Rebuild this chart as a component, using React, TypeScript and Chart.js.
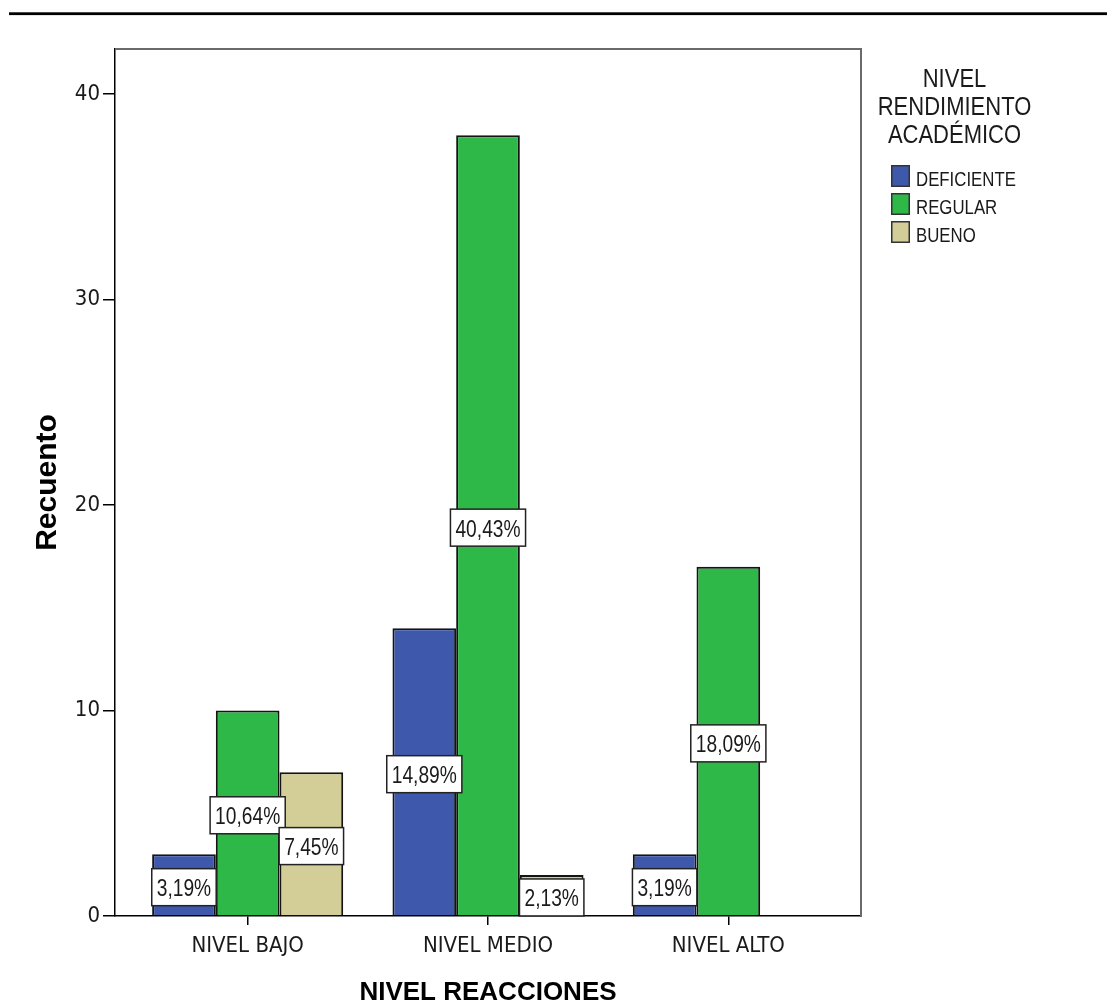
import React, { useEffect, useRef } from "react";
import { Chart, registerables } from "chart.js";

Chart.register(...registerables);

// Counts per reaction level, one array per academic-performance group
const categories = ["NIVEL BAJO", "NIVEL MEDIO", "NIVEL ALTO"];
const seriesNames = ["DEFICIENTE", "REGULAR", "BUENO"];
const deficiente = [3, 14, 3];
const regular = [10, 38, 17];
const bueno = [7, 2, 0];
const yTicks = [0, 10, 20, 30, 40];
const legendTitle = ["NIVEL", "RENDIMIENTO", "ACADÉMICO"];
const xTitle = "NIVEL REACCIONES";
const yTitle = "Recuento";

const colors = ["#3E58AC", "#2EB848", "#D3CE97"];
const NARROW = "'Liberation Sans Narrow', 'Arial Narrow', 'DejaVu Sans Condensed', sans-serif";
const SANS = "'Liberation Sans', Arial, sans-serif";
const TEXT = "#1a1a1a";

const W = 1099;
const H = 1000;

// Text squeezed horizontally, for the condensed look of labels and legend
function narrowText(
  ctx: CanvasRenderingContext2D,
  text: string,
  x: number,
  y: number,
  size: number,
  sx: number,
  align: CanvasTextAlign,
  baseline: CanvasTextBaseline
) {
  ctx.save();
  ctx.translate(x, y);
  ctx.scale(sx, 1);
  ctx.font = `${size}px ${SANS}`;
  ctx.textAlign = align;
  ctx.textBaseline = baseline;
  ctx.fillText(text, 0, 0);
  ctx.restore();
}

function narrowWidth(ctx: CanvasRenderingContext2D, text: string, size: number, sx: number) {
  ctx.save();
  ctx.font = `${size}px ${SANS}`;
  const w = ctx.measureText(text).width * sx;
  ctx.restore();
  return w;
}

// Heavy rule across the top of the page and the grey top/right sides of the frame
const framePlugin = {
  id: "frame",
  beforeDraw(chart: Chart) {
    const { ctx } = chart;
    ctx.save();
    ctx.fillStyle = "#000";
    ctx.fillRect(1, 4.3, W - 1, 2.8);
    ctx.restore();
  },
  afterDraw(chart: Chart) {
    const { ctx, chartArea: a } = chart;
    ctx.save();
    ctx.strokeStyle = "#6a6a6a";
    ctx.lineWidth = 2;
    ctx.beginPath();
    ctx.moveTo(a.left, a.top);
    ctx.lineTo(a.right, a.top);
    ctx.lineTo(a.right, a.bottom + 1);
    ctx.stroke();
    ctx.restore();
  },
};

// Boxed percentage labels in the middle of each bar
const pctLabelPlugin = {
  id: "pctLabels",
  afterDatasetsDraw(chart: Chart) {
    const { ctx, chartArea } = chart;
    const y = chart.scales.y;
    const all = chart.data.datasets.flatMap((d) => d.data as number[]);
    const total = all.reduce((s, v) => s + (v || 0), 0);
    const size = 24;
    const sx = 0.8;
    ctx.save();
    chart.data.datasets.forEach((ds, di) => {
      const meta = chart.getDatasetMeta(di);
      meta.data.forEach((bar: any, i: number) => {
        const v = (ds.data as number[])[i];
        if (!v) return;
        const text = ((v / total) * 100).toFixed(2).replace(".", ",") + "%";
        const w = narrowWidth(ctx, text, size, sx) + 10;
        const h = 37;
        let cy = y.getPixelForValue(v / 2) + 2;
        if (cy + h / 2 > chartArea.bottom) cy = chartArea.bottom - h / 2;
        const x = bar.x;
        ctx.fillStyle = "#fff";
        ctx.fillRect(x - w / 2, cy - h / 2, w, h);
        ctx.strokeStyle = "#222";
        ctx.lineWidth = 1.5;
        ctx.strokeRect(x - w / 2, cy - h / 2, w, h);
        ctx.fillStyle = TEXT;
        narrowText(ctx, text, x, cy + 9, size, sx, "center", "alphabetic");
      });
    });
    ctx.restore();
  },
};

// Legend with a three-line title on the right of the plot
const legendPlugin = {
  id: "sideLegend",
  afterDraw(chart: Chart) {
    const { ctx } = chart;
    ctx.save();
    ctx.fillStyle = TEXT;
    legendTitle.forEach((line, i) =>
      narrowText(ctx, line, 946.5, 79 + i * 28, 25, 0.88, "center", "alphabetic")
    );
    chart.data.datasets.forEach((ds, i) => {
      const top = 157 + i * 28;
      ctx.fillStyle = ds.backgroundColor as string;
      ctx.fillRect(883, top, 19, 22);
      ctx.strokeStyle = "#333";
      ctx.lineWidth = 1.5;
      ctx.strokeRect(883.75, top + 0.75, 17.5, 20.5);
      ctx.fillStyle = TEXT;
      narrowText(ctx, ds.label as string, 908, top + 21, 21, 0.8, "left", "alphabetic");
    });
    ctx.restore();
  },
};

export default function App() {
  const ref = useRef<HTMLCanvasElement>(null);

  useEffect(() => {
    const series = [deficiente, regular, bueno];
    const chart = new Chart(ref.current!, {
      type: "bar",
      data: {
        labels: categories.map((_, i) => i),
        datasets: series.map((data, i) => ({
          label: seriesNames[i],
          data,
          backgroundColor: colors[i],
          borderColor: "#141414",
          borderWidth: 2,
          categoryPercentage: 0.795,
          barPercentage: 1,
        })),
      },
      options: {
        responsive: false,
        animation: false,
        devicePixelRatio: 1,
        layout: { padding: { top: 41, right: 246, bottom: 0, left: 0 } },
        plugins: {
          legend: { display: false },
          tooltip: { enabled: false },
        },
        scales: {
          x: {
            type: "linear",
            min: -0.552,
            max: 2.552,
            offset: false,
            afterBuildTicks: (scale: any) => {
              scale.ticks = categories.map((_, i) => ({ value: i }));
            },
            afterFit: (scale: any) => {
              scale.height = 92;
            },
            ticks: {
              callback: (v: any) => categories[v as number] ?? "",
              font: { family: NARROW, size: 22 },
              color: TEXT,
              padding: 8,
              maxRotation: 0,
              autoSkip: false,
            },
            grid: {
              offset: false,
              drawOnChartArea: false,
              drawTicks: true,
              tickLength: 9,
              color: "#000",
              lineWidth: 1.5,
            },
            border: { display: true, color: "#000", width: 1.5 },
            title: {
              display: true,
              text: xTitle,
              font: { family: SANS, size: 26, weight: "bold" },
              color: "#000",
              padding: { top: 0, bottom: 0 },
            },
          },
          y: {
            min: 0,
            max: 42.2,
            afterBuildTicks: (scale: any) => {
              scale.ticks = yTicks.map((v) => ({ value: v }));
            },
            afterFit: (scale: any) => {
              scale.width = 107;
            },
            ticks: {
              font: { family: NARROW, size: 22 },
              color: TEXT,
              padding: 3,
            },
            grid: {
              drawOnChartArea: false,
              drawTicks: true,
              tickLength: 12,
              color: "#000",
              lineWidth: 1.5,
            },
            border: { display: true, color: "#000", width: 1.5 },
            title: {
              display: true,
              text: yTitle,
              font: { family: SANS, size: 30, weight: "bold" },
              color: "#000",
              padding: { top: 22, bottom: 0 },
            },
          },
        },
      },
      plugins: [framePlugin, pctLabelPlugin, legendPlugin],
    });
    return () => chart.destroy();
  }, []);

  return (
    <canvas
      ref={ref}
      width={W}
      height={H}
      style={{ display: "block", position: "absolute", left: 8, top: 8, width: W, height: H }}
    />
  );
}
